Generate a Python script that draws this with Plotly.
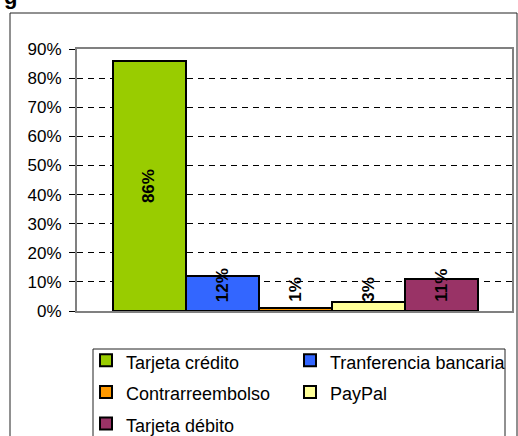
import plotly.graph_objects as go

series = ["Tarjeta crédito", "Tranferencia bancaria", "Contrarreembolso", "PayPal", "Tarjeta débito"]
values = [0.86, 0.12, 0.01, 0.03, 0.11]
colors = ["#99CC00", "#3366FF", "#FF9900", "#FFFF99", "#993366"]
label_texts = ["86%", "12%", "1%", "3%", "11%"]
legend_column = ["legend", "legend2", "legend", "legend2", "legend"]

FONT = "Arial, Liberation Sans, sans-serif"
W, H = 518, 436
L, R, T, B = 77, 6, 49, 125
pw, ph = W - L - R, H - T - B


def px_x(x):
    return (x - L) / pw


def px_y(y):
    return (H - B - y) / ph


fig = go.Figure()
for i, (name, v, c, lg) in enumerate(zip(series, values, colors, legend_column)):
    fig.add_trace(go.Bar(
        x=[i], y=[v], width=[1],
        name='<span style="font-size:18px">' + name + '</span>',
        legend=lg,
        marker=dict(color=c, line=dict(color="black", width=2)),
        hoverinfo="skip",
    ))

annotations = []
for i, (v, t) in enumerate(zip(values, label_texts)):
    if v >= 0.2:
        annotations.append(dict(x=i, y=v / 2, xref="x", yref="y", text=t, showarrow=False,
                                textangle=-90, xanchor="center", yanchor="middle",
                                font=dict(family=FONT, size=17, color="black", weight="bold")))
    else:
        annotations.append(dict(x=i, y=0, xref="x", yref="y", text=t, showarrow=False,
                                textangle=-90, xanchor="center", yanchor="bottom", yshift=7,
                                font=dict(family=FONT, size=17, color="black", weight="bold")))

# cut-off title glyph at the very top
annotations.append(dict(x=px_x(10), y=px_y(11), xref="paper", yref="paper",
                        text="<b>g</b>", showarrow=False, xanchor="center", yanchor="bottom",
                        font=dict(family=FONT, size=22, color="black")))

shapes = [
    dict(type="rect", xref="paper", yref="paper",
         x0=px_x(10), x1=px_x(517), y0=px_y(460), y1=px_y(13),
         line=dict(color="#222222", width=1), fillcolor="rgba(0,0,0,0)", layer="above"),
    dict(type="rect", xref="paper", yref="paper",
         x0=px_x(93), x1=px_x(505), y0=px_y(455), y1=px_y(349),
         line=dict(color="#222222", width=1), fillcolor="rgba(0,0,0,0)", layer="above"),
]

legend_common = dict(
    orientation="v", xref="container", yref="container",
    xanchor="left", yanchor="top",
    borderwidth=0, bgcolor="rgba(0,0,0,0)",
    font=dict(family=FONT, size=22, color="black"),
    traceorder="normal",
)

fig.update_layout(
    width=W, height=H,
    margin=dict(l=L, r=R, t=T, b=B, pad=0, autoexpand=False),
    paper_bgcolor="white", plot_bgcolor="white",
    barmode="overlay", bargap=0,
    font=dict(family=FONT, size=17, color="black"),
    showlegend=True,
    legend=dict(x=86 / W, y=1 - 339.5 / H, **legend_common),
    legend2=dict(x=290 / W, y=1 - 339.5 / H, **legend_common),
    xaxis=dict(range=[-0.99, 4.97], showticklabels=False, ticks="", showgrid=False,
               zeroline=False, showline=True, linecolor="#808080", linewidth=2, mirror=True),
    yaxis=dict(range=[0, 0.9], dtick=0.1, tickformat=".0%", ticks="outside", ticklen=6,
               tickcolor="black", tickwidth=1, showgrid=True, gridcolor="black", gridwidth=1,
               griddash="6px,5px", zeroline=False, showline=True, linecolor="#808080",
               linewidth=2, mirror=True, ticklabelstandoff=4,
               tickfont=dict(family=FONT, size=17, color="black")),
    annotations=annotations,
    shapes=shapes,
)

fig.write_html("out.html", config={"displayModeBar": False},
               post_script="document.body.style.margin='0';")
